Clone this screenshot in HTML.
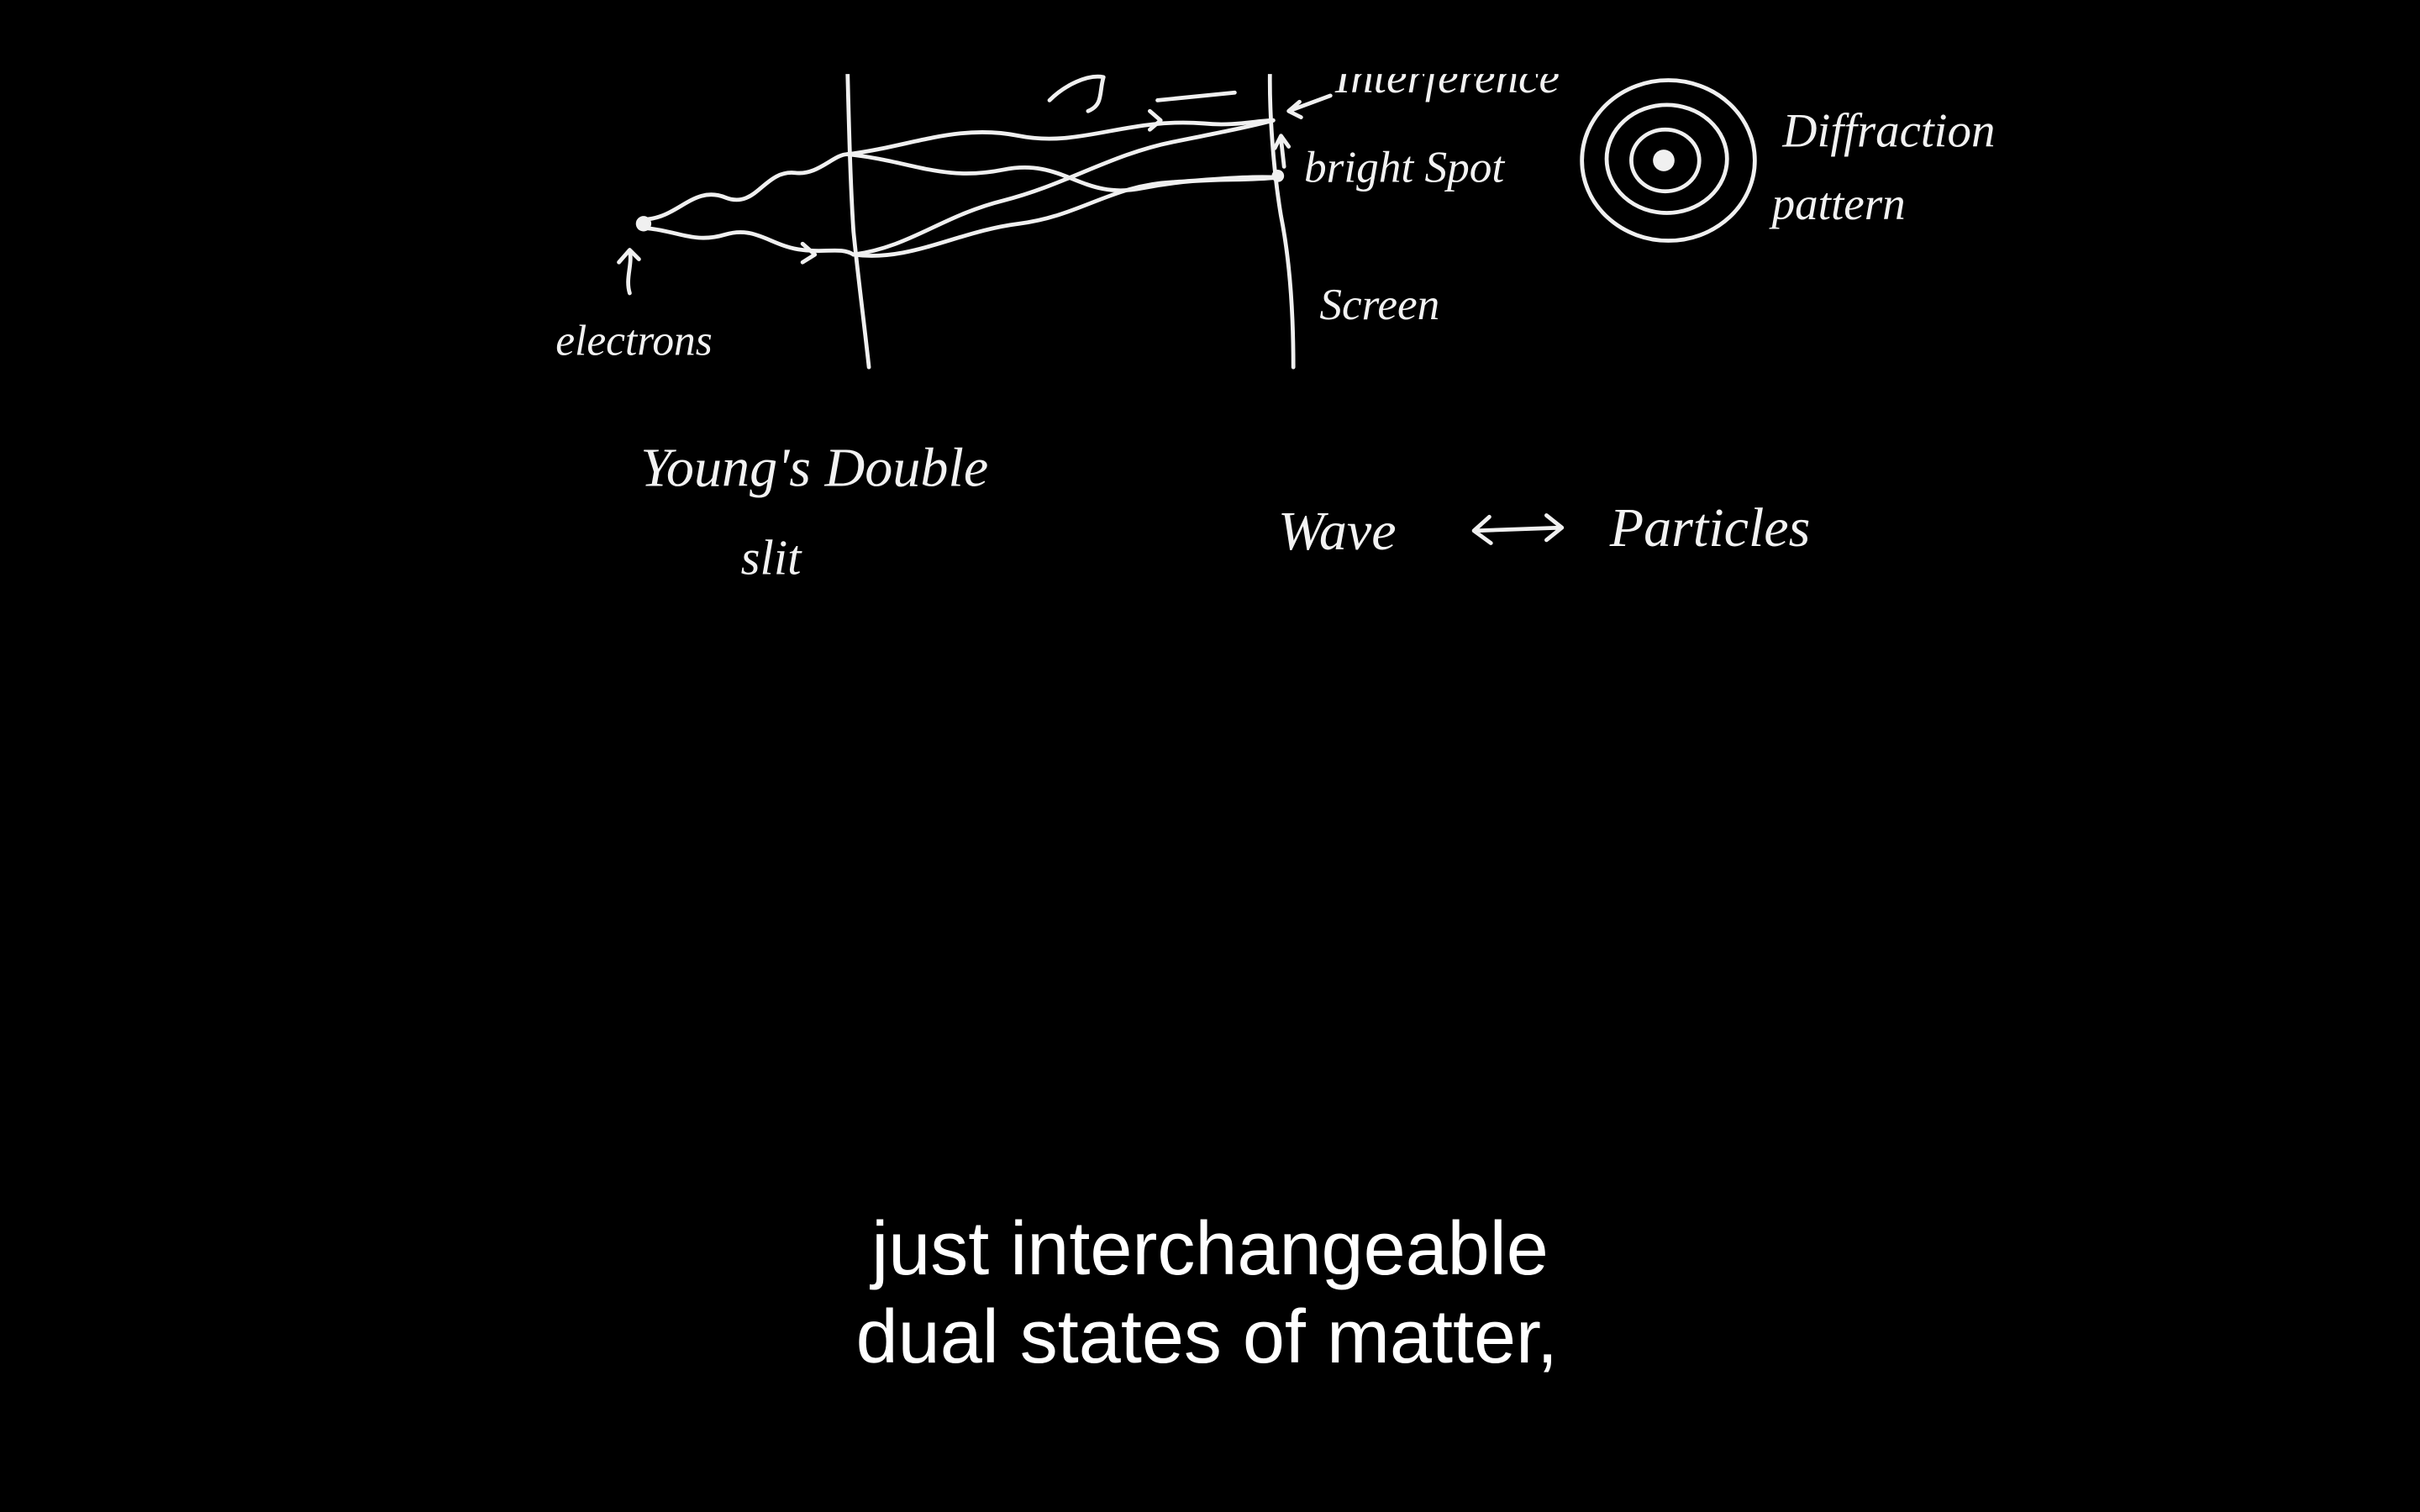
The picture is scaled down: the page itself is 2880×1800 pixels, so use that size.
<!DOCTYPE html>
<html>
<head>
<meta charset="utf-8">
<style>
html,body{margin:0;padding:0;background:#000;width:2880px;height:1800px;overflow:hidden;}
svg{display:block;}
.hw{font-family:"Liberation Serif","DejaVu Serif",serif;font-style:italic;fill:#f2f2f2;}
.st{fill:none;stroke:#f0f0f0;stroke-width:2.6;stroke-linecap:round;stroke-linejoin:round;}
</style>
</head>
<body>
<svg width="2880" height="1800" viewBox="0 0 1568 980" xmlns="http://www.w3.org/2000/svg">
  <rect width="1568" height="980" fill="#000"/>
  <defs><clipPath id="clipTop"><rect x="0" y="48" width="1568" height="932"/></clipPath></defs>
  <g clip-path="url(#clipTop)">
    <path class="st" d="M549 40 C550 80 551 120 553 150 C556 180 560 210 563 238"/>
    <path class="st" d="M823 40 C822 70 825 110 830 140 C836 170 838 205 838 238"/>
    <circle cx="417" cy="145" r="5" fill="#f0f0f0"/>
    <path class="st" d="M420 142 C440 140 450 120 470 128 C490 136 495 110 515 112 C530 114 540 100 549 100"/>
    <path class="st" d="M420 148 C440 150 450 158 470 152 C490 146 500 160 520 162 C535 164 545 160 553 165"/>
    <path class="st" d="M549 100 C590 95 620 80 660 88 C700 96 730 76 780 80 C800 82 815 78 825 78"/>
    <path class="st" d="M549 100 C590 104 610 118 650 110 C690 102 700 130 740 122 C780 114 800 118 828 115"/>
    <path class="st" d="M553 165 C590 160 610 140 650 130 C690 120 720 100 760 92 C790 86 810 82 825 78"/>
    <path class="st" d="M553 165 C590 170 620 150 660 145 C700 140 720 120 760 118 C790 116 810 114 828 115"/>
    <path class="st" d="M408 190 C405 180 410 172 408 162 M401 170 L408 162 L414 168"/>
    <path class="st" d="M520 158 L528 165 L520 170"/>
    <path class="st" d="M745 72 L752 78 L745 84"/>
    <path class="st" d="M750 65 L800 60"/>
    <path class="st" d="M680 65 C690 55 705 48 715 50 C712 60 715 68 705 72"/>
    <path class="st" d="M835 72 L862 62 M842 66 L835 72 L843 76"/>
    <path class="st" d="M832 108 L830 90 M826 96 L830 88 L835 95"/>
    <circle cx="828" cy="114" r="4" fill="#f0f0f0"/>
    <text class="hw" x="865" y="60" font-size="30">Interference</text>
    <text class="hw" x="845" y="118" font-size="29">bright Spot</text>
    <text class="hw" x="855" y="207" font-size="29">Screen</text>
    <text class="hw" x="360" y="230" font-size="28">electrons</text>
    <g>
      <ellipse class="st" cx="1081" cy="104" rx="56" ry="52"/>
      <ellipse class="st" cx="1080" cy="103" rx="39" ry="35"/>
      <ellipse class="st" cx="1079" cy="104" rx="22" ry="20"/>
      <circle cx="1078" cy="104" r="7" fill="#f0f0f0"/>
    </g>
    <text class="hw" x="1155" y="95" font-size="31">Diffraction</text>
    <text class="hw" x="1148" y="142" font-size="30">pattern</text>
  </g>
  <text class="hw" x="415" y="315" font-size="36">Young's Double</text>
  <text class="hw" x="480" y="372" font-size="32">slit</text>
  <text class="hw" x="828" y="356" font-size="36">Wave</text>
  <path class="st" d="M955 344 L1012 342 M965 335 L955 344 L966 352 M1002 334 L1012 342 L1002 350"/>
  <text class="hw" x="1043" y="354" font-size="36">Particles</text>
  <g font-family="'Liberation Sans', Arial, sans-serif" font-size="49" fill="#ffffff" text-anchor="middle">
    <text x="784" y="826">just interchangeable</text>
    <text x="782" y="883">dual states of matter,</text>
  </g>
</svg>
</body>
</html>
